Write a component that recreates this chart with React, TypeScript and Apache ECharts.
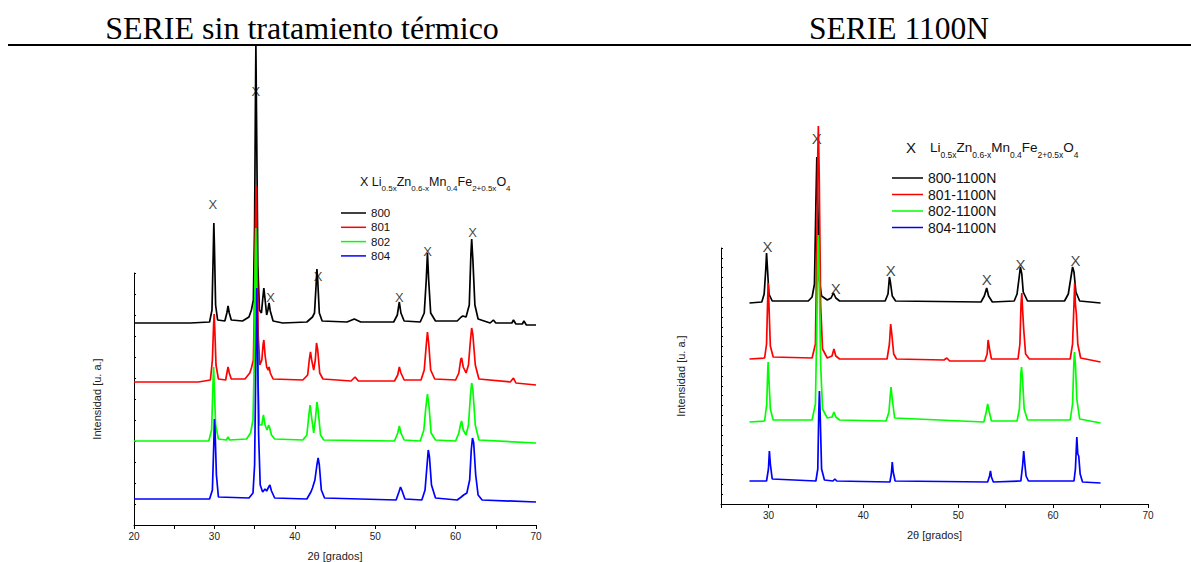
import React, { useEffect, useRef } from 'react';
import * as echarts from 'echarts';

// ---------- data (2θ, intensity in arbitrary units) ----------
const leftNames = ['800', '801', '802', '804'];
const rightNames = ['800-1100N', '801-1100N', '802-1100N', '804-1100N'];
const seriesColors = ['#000000', '#ff0000', '#00ff00', '#0000ff'];

const leftXLabels = [20, 30, 40, 50, 60, 70];
const rightXLabels = [30, 40, 50, 60, 70];

const left800 = [
  [20, 202], [27, 202], [29.4, 203], [29.7, 215], [29.85, 270], [29.93, 302], [30.0, 280], [30.15, 220], [30.4, 205],
  [31.3, 204], [31.55, 212], [31.7, 219], [31.85, 212], [32.1, 205], [33.5, 204], [34.3, 208], [34.6, 215], [34.85, 225],
  [35.0, 300], [35.1, 420], [35.16, 480], [35.25, 400], [35.4, 260], [35.6, 215], [35.85, 212], [36.0, 225], [36.15, 237],
  [36.35, 222], [36.5, 210], [36.65, 215], [36.8, 222], [36.95, 214], [37.3, 204], [38.5, 202], [41.5, 203], [42.2, 208],
  [42.45, 212], [42.65, 240], [42.75, 256], [42.85, 245], [43.05, 212], [43.4, 204], [46.5, 203], [47.4, 206], [48.2, 203],
  [52.3, 203], [52.75, 210], [53.0, 223], [53.2, 212], [53.6, 204], [55.6, 203], [56.1, 212], [56.35, 245], [56.5, 272],
  [56.65, 245], [56.9, 212], [57.5, 204], [60.2, 204], [60.7, 208], [60.9, 209], [61.3, 208], [61.7, 220], [61.9, 270],
  [62.0, 286], [62.15, 265], [62.4, 220], [62.8, 206], [64.3, 202], [64.7, 205], [65.0, 202], [67.0, 202], [67.2, 205],
  [67.5, 201], [68.3, 201], [68.5, 204], [68.8, 200], [70, 200],
];
const left801 = [
  [20, 143], [28, 143], [29.5, 145], [29.75, 165], [29.9, 200], [29.97, 211], [30.05, 195], [30.2, 160], [30.5, 146],
  [31.4, 145], [31.6, 154], [31.7, 158], [31.85, 152], [32.1, 146], [33.8, 146], [34.4, 152], [34.6, 157], [34.85, 165],
  [35.0, 230], [35.1, 300], [35.18, 340], [35.28, 290], [35.45, 190], [35.65, 160], [35.9, 165], [36.05, 180], [36.15, 185],
  [36.3, 170], [36.5, 158], [36.7, 155], [36.8, 158], [36.95, 152], [37.3, 146], [41.0, 145], [41.6, 150], [41.8, 165],
  [41.95, 173], [42.1, 165], [42.35, 155], [42.55, 165], [42.7, 182], [42.85, 175], [43.1, 152], [43.5, 146], [47.0, 144],
  [47.5, 148], [47.9, 144], [52.4, 144], [52.8, 150], [53.0, 158], [53.2, 152], [53.6, 145], [55.7, 145], [56.1, 155],
  [56.35, 180], [56.5, 193], [56.65, 182], [56.9, 155], [57.4, 146], [60.0, 145], [60.4, 152], [60.65, 166], [60.75, 167],
  [60.95, 158], [61.3, 152], [61.6, 160], [61.85, 185], [62.0, 197], [62.15, 190], [62.45, 160], [62.9, 146], [66.8, 143],
  [67.2, 147], [67.5, 142], [70, 140],
];
const left802 = [
  [20, 84], [29.3, 84], [29.65, 95], [29.82, 140], [29.9, 158], [29.98, 140], [30.15, 100], [30.5, 86], [31.5, 85],
  [31.7, 88], [31.9, 85], [34.0, 86], [34.5, 92], [34.8, 105], [34.95, 160], [35.05, 250], [35.15, 297], [35.25, 250],
  [35.4, 150], [35.6, 100], [35.9, 100], [36.05, 108], [36.1, 110], [36.3, 100], [36.55, 95], [36.75, 100], [36.85, 98],
  [37.1, 90], [37.5, 86], [41.0, 85], [41.5, 90], [41.75, 110], [41.9, 120], [42.05, 110], [42.35, 92], [42.55, 105],
  [42.75, 123], [42.9, 115], [43.2, 90], [43.6, 85], [52.4, 84], [52.8, 92], [53.0, 99], [53.2, 92], [53.6, 85],
  [55.6, 84], [56.05, 95], [56.3, 118], [56.5, 131], [56.7, 118], [56.95, 92], [57.5, 85], [60.0, 84], [60.4, 92],
  [60.65, 102], [60.75, 104], [60.95, 95], [61.3, 90], [61.6, 100], [61.85, 130], [62.0, 142], [62.15, 135], [62.45, 100],
  [62.9, 85], [70, 82],
];
const left804 = [
  [20, 26], [29.4, 26], [29.75, 35], [29.92, 80], [30.0, 106], [30.08, 95], [30.25, 50], [30.5, 28], [34.3, 27],
  [34.8, 32], [35.0, 60], [35.15, 160], [35.27, 237], [35.38, 180], [35.5, 90], [35.7, 40], [36.0, 33], [36.3, 36],
  [36.5, 34], [36.75, 38], [36.9, 40], [37.1, 34], [37.5, 27], [41.5, 26], [42.0, 33], [42.2, 37], [42.5, 45],
  [42.75, 60], [42.9, 67], [43.05, 60], [43.3, 35], [43.7, 27], [52.6, 25], [52.95, 33], [53.15, 38], [53.35, 34],
  [53.7, 26], [55.8, 25], [56.2, 35], [56.45, 60], [56.6, 75], [56.75, 68], [57.0, 40], [57.5, 27], [60.2, 25],
  [60.7, 28], [61.0, 30], [61.4, 32], [61.75, 45], [61.95, 75], [62.1, 87], [62.25, 82], [62.5, 50], [62.8, 30],
  [63.3, 25], [70, 23],
];

const right800 = [
  [28, 201], [29.3, 202], [29.55, 210], [29.72, 235], [29.8, 251], [29.9, 235], [30.05, 210], [30.4, 203], [34.2, 203],
  [34.6, 207], [34.85, 220], [35.0, 300], [35.1, 347], [35.2, 300], [35.35, 225], [35.6, 208], [36.2, 204], [36.6, 206],
  [36.85, 211], [37.1, 206], [37.5, 203], [42.3, 203], [42.6, 210], [42.75, 227], [42.85, 222], [43.05, 208], [43.4, 203],
  [52.4, 202], [52.75, 208], [53.0, 216], [53.2, 208], [53.6, 202], [55.9, 203], [56.2, 210], [56.4, 225], [56.55, 237],
  [56.7, 230], [56.85, 212], [57.3, 203], [61.2, 203], [61.6, 210], [61.85, 225], [62.05, 237], [62.2, 232], [62.4, 212],
  [62.8, 203], [65, 201],
];
const right801 = [
  [28, 145], [29.6, 146], [29.8, 160], [29.92, 205], [29.97, 221], [30.05, 200], [30.2, 158], [30.5, 147], [34.6, 146],
  [34.95, 160], [35.1, 260], [35.2, 350], [35.26, 378], [35.35, 330], [35.5, 200], [35.7, 155], [36.2, 146], [36.7, 148],
  [36.9, 155], [37.1, 148], [37.5, 145], [42.5, 145], [42.75, 160], [42.88, 180], [43.0, 170], [43.2, 150], [43.5, 145],
  [48.5, 144], [48.8, 146], [49.1, 143], [52.8, 143], [53.05, 150], [53.15, 164], [53.3, 155], [53.5, 145], [56.3, 145],
  [56.5, 160], [56.62, 200], [56.7, 211], [56.78, 195], [56.9, 175], [57.1, 150], [57.5, 145], [61.8, 145], [62.05, 160],
  [62.2, 200], [62.27, 221], [62.35, 200], [62.45, 190], [62.6, 160], [62.9, 146], [65, 142],
];
const right802 = [
  [28, 82], [29.6, 83], [29.82, 100], [29.93, 135], [29.97, 142], [30.05, 125], [30.2, 95], [30.5, 84], [34.6, 84],
  [34.95, 100], [35.1, 180], [35.2, 250], [35.26, 269], [35.35, 230], [35.5, 140], [35.7, 95], [36.2, 86], [36.7, 87],
  [36.9, 92], [37.1, 87], [37.5, 84], [42.4, 83], [42.7, 92], [42.85, 110], [42.92, 117], [43.05, 105], [43.3, 86],
  [52.7, 82], [52.95, 92], [53.1, 100], [53.25, 93], [53.5, 83], [56.2, 83], [56.45, 95], [56.6, 130], [56.67, 137],
  [56.78, 125], [56.95, 95], [57.3, 84], [61.8, 84], [62.05, 100], [62.18, 140], [62.25, 152], [62.35, 140], [62.5, 105],
  [62.8, 85], [65, 81],
];
const right804 = [
  [28, 23], [29.8, 23], [30.0, 35], [30.1, 53], [30.2, 40], [30.4, 25], [35.0, 23], [35.2, 35], [35.3, 90],
  [35.37, 113], [35.45, 90], [35.6, 35], [35.9, 24], [36.8, 23], [37.0, 25], [37.2, 23], [42.8, 22], [42.95, 30],
  [43.05, 42], [43.15, 32], [43.35, 23], [53.1, 22], [53.3, 28], [53.4, 33], [53.5, 27], [53.7, 22], [56.6, 23],
  [56.8, 40], [56.9, 53], [57.0, 42], [57.15, 28], [57.4, 23], [62.2, 23], [62.35, 35], [62.5, 67], [62.6, 50],
  [62.7, 48], [62.85, 30], [63.1, 22], [65, 21],
];

// "X" phase markers (Li0.5xZn0.6-xMn0.4Fe2+0.5xO4 reflections)
const leftMarks = [[29.8, 321], [35.15, 434], [37.0, 228], [42.9, 249], [53.0, 228], [56.5, 274], [62.1, 293]];
const rightMarks = [[29.9, 258], [35.1, 366], [37.1, 216], [42.9, 234], [53.0, 225], [56.56, 240], [62.35, 244]];

const leftSeriesData = [left800, left801, left802, left804];
const rightSeriesData = [right800, right801, right802, right804];

const SANS = 'Liberation Sans, Arial, sans-serif';
const SERIF = 'Liberation Serif, Times New Roman, serif';

function formulaRich(main: number, sub: number, pad: number, xSize: number, xGap: number) {
  return {
    x: { fontSize: xSize, fontFamily: SANS, fill: '#111', padding: [0, xGap, 0, 0], lineHeight: xSize },
    m: { fontSize: main, fontFamily: SANS, fill: '#111', lineHeight: main },
    s: { fontSize: sub, fontFamily: SANS, fill: '#111', lineHeight: sub, padding: [pad, 0, 0, 0] },
  };
}
const formulaText = '{x|X}{m|Li}{s|0.5x}{m|Zn}{s|0.6-x}{m|Mn}{s|0.4}{m|Fe}{s|2+0.5x}{m|O}{s|4}';

export default function App() {
  const ref = useRef<HTMLDivElement>(null);

  useEffect(() => {
    if (!ref.current) return;
    const chart = echarts.init(ref.current, undefined, { renderer: 'svg' });

    const xAxisBase = (min: number, max: number, labels: number[]) => ({
      type: 'value',
      min,
      max,
      interval: 5,
      axisLine: { show: true, lineStyle: { color: '#000', width: 1 } },
      axisTick: { show: true, length: 4, lineStyle: { color: '#000' } },
      axisLabel: {
        fontSize: 10,
        fontFamily: SANS,
        color: '#222',
        margin: 6,
        formatter: (v: number) => (labels.includes(v) ? String(v) : ''),
      },
      splitLine: { show: false },
      name: '2θ [grados]',
      nameLocation: 'middle',
      nameGap: 25,
      nameTextStyle: { fontSize: 11, fontFamily: SANS, color: '#222' },
    });

    const yAxisBase = (max: number, interval: number, gap: number) => ({
      type: 'value',
      min: 0,
      max,
      interval,
      axisLine: { show: true, lineStyle: { color: '#000', width: 1 } },
      axisTick: { show: true, inside: true, length: 2, lineStyle: { color: '#000' } },
      axisLabel: { show: false },
      splitLine: { show: false },
      name: 'Intensidad [u. a.]',
      nameLocation: 'middle',
      nameGap: gap,
      nameTextStyle: { fontSize: 11, fontFamily: SANS, color: '#222' },
    });

    const lineSeries = (names: string[], datas: number[][][], axis: number) =>
      datas.map((d, i) => ({
        name: names[i],
        type: 'line',
        xAxisIndex: axis,
        yAxisIndex: axis,
        data: d,
        symbol: 'none',
        showSymbol: false,
        clip: false,
        lineStyle: { color: seriesColors[i], width: 1.7 },
        itemStyle: { color: seriesColors[i] },
        emphasis: { disabled: true },
      }));

    const markSeries = (marks: number[][], axis: number, size: number) => ({
      name: 'X' + axis,
      type: 'scatter',
      xAxisIndex: axis,
      yAxisIndex: axis,
      data: marks,
      symbolSize: 0,
      clip: false,
      label: {
        show: true,
        position: 'inside',
        formatter: 'X',
        fontSize: size,
        fontFamily: SANS,
        color: '#111',
      },
      itemStyle: { color: 'transparent' },
      emphasis: { disabled: true },
    });

    chart.setOption({
      animation: false,
      backgroundColor: '#ffffff',
      grid: [
        { left: 134, top: 273, width: 402, height: 252, containLabel: false },
        { left: 721, top: 248, width: 427, height: 256, containLabel: false },
      ],
      xAxis: [
        { ...xAxisBase(20, 70, leftXLabels), gridIndex: 0 },
        { ...xAxisBase(25, 70, rightXLabels), gridIndex: 1 },
      ],
      yAxis: [
        { ...yAxisBase(252, 21, 32), gridIndex: 0 },
        { ...yAxisBase(256, 256 / 26, 35), gridIndex: 1 },
      ],
      legend: [
        {
          data: leftNames.map((n) => ({ name: n, icon: 'rect' })),
          orient: 'vertical',
          left: 341,
          top: 207,
          padding: 0,
          itemWidth: 25,
          itemHeight: 1.5,
          itemGap: 2.3,
          selectedMode: false,
          textStyle: { fontSize: 11.5, fontFamily: SANS, color: '#111' },
        },
        {
          data: rightNames.map((n) => ({ name: n, icon: 'rect' })),
          orient: 'vertical',
          left: 892,
          top: 171,
          padding: 0,
          itemWidth: 31,
          itemHeight: 1.5,
          itemGap: 2.5,
          selectedMode: false,
          textStyle: { fontSize: 14, fontFamily: SANS, color: '#111' },
        },
      ],
      series: [
        ...lineSeries(leftNames, leftSeriesData, 0),
        ...lineSeries(rightNames, rightSeriesData, 1),
        markSeries(leftMarks, 0, 13),
        markSeries(rightMarks, 1, 15),
      ],
      graphic: [
        {
          type: 'text',
          x: 302,
          y: 28,
          style: {
            text: 'SERIE sin tratamiento térmico',
            fontSize: 32,
            fontFamily: SERIF,
            fill: '#000',
            align: 'center',
            verticalAlign: 'middle',
          },
        },
        {
          type: 'text',
          x: 899,
          y: 28,
          style: {
            text: 'SERIE 1100N',
            fontSize: 31.5,
            fontFamily: SERIF,
            fill: '#000',
            align: 'center',
            verticalAlign: 'middle',
          },
        },
        {
          type: 'line',
          shape: { x1: 8, y1: 45, x2: 1191, y2: 45 },
          style: { stroke: '#000', lineWidth: 2 },
        },
        {
          type: 'text',
          x: 360,
          y: 182,
          style: {
            text: formulaText,
            rich: formulaRich(12.5, 8, 12, 12.5, 3.5),
            align: 'left',
            verticalAlign: 'middle',
          },
        },
        {
          type: 'text',
          x: 906,
          y: 147,
          style: {
            text: formulaText,
            rich: formulaRich(13.5, 8.5, 15, 15, 14),
            align: 'left',
            verticalAlign: 'middle',
          },
        },
      ],
    });

    return () => chart.dispose();
  }, []);

  return (
    <div
      ref={ref}
      style={{ position: 'fixed', left: 0, top: 0, width: 1191, height: 562, background: '#fff' }}
    />
  );
}
